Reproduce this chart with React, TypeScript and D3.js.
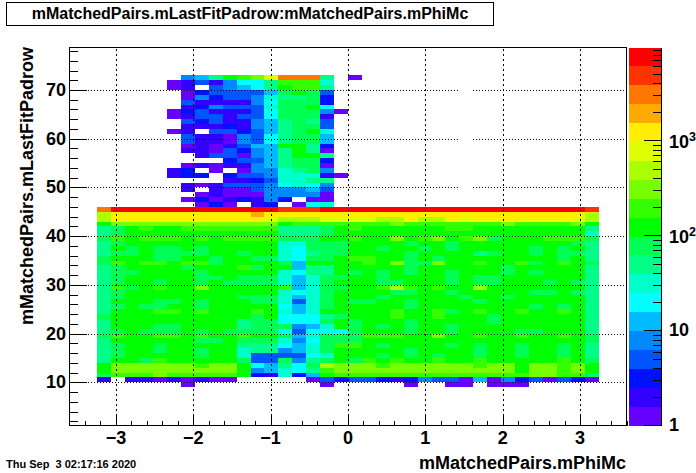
import React from "react";
import * as d3 from "d3";

const W = 696, H = 473;
const titleText = "mMatchedPairs.mLastFitPadrow:mMatchedPairs.mPhiMc";
const xTitle = "mMatchedPairs.mPhiMc";
const yTitle = "mMatchedPairs.mLastFitPadrow";
const dateText = "Thu Sep\u00a0\u00a03 02:17:16 2020";
const xTicks = [-3, -2, -1, 0, 1, 2, 3];
const yTicks = [10, 20, 30, 40, 50, 60, 70];
const firstPhi = -3.24, phiWidth = 0.18;

// palette, low to high
const palette = ["#6600ff","#3300ff","#0011ff","#0055ff","#0088ff","#00bbff","#00ffff","#00ffcc","#00ff88","#00ff55","#00ff00","#33ff00","#77ff00","#aaff00","#ddff00","#ffee00","#ffaa00","#ff7700","#ff3300","#ff0000"];

// counts per padrow; columns start at phi bin 0
const lowerPadrows = [45,44,43,42,41,40,39,38,37,36,35,34,33,32,31,30,29,28,27,26,25,24,23,22,21,20,19,18,17,16,15,14,13,12,11,10,9];
const lowerCounts = [
[3160,7900,7900,7900,7900,7900,7900,7900,7900,7900,7900,7900,7900,5000,5000,5000,7900,7900,7900,7900,7900,7900,7900,7900,7900,7900,7900,7900,7900,7900,7900,7900,7900,7900,7900,5000],
[500,1250,1250,1250,1250,1250,1250,1250,1250,1250,1250,2000,1250,1250,1250,1250,1250,1250,1250,1250,1250,1250,1250,1250,1250,1250,1250,1250,1250,1250,1250,1250,1250,1250,1250,500],
[500,1250,1250,1250,1250,1250,1250,1250,1250,1250,1250,1250,790,500,500,500,790,790,790,790,500,500,1250,500,500,1250,790,1250,1250,1250,1250,1250,1250,1250,790,500],
[125,316,316,316,316,316,316,316,316,316,316,316,316,125,200,200,200,200,200,200,200,316,200,200,200,200,200,200,200,316,200,200,200,200,316,125],
[50,79,125,200,125,125,200,200,200,200,200,200,200,50,50,50,79,125,200,125,125,125,125,125,125,200,200,125,125,125,125,125,125,125,125,50],
[50,79,125,125,125,125,125,125,125,125,125,125,125,50,50,50,79,125,125,125,125,125,125,125,125,125,125,125,125,125,125,125,125,125,125,31],
[79,200,125,200,200,200,125,200,125,200,200,200,200,79,79,79,125,125,200,125,125,316,125,200,316,125,200,316,79,125,125,125,200,200,200,79],
[50,79,125,125,125,125,125,125,125,125,125,125,125,31,31,79,79,79,125,125,125,125,79,125,125,79,125,125,125,125,125,125,125,125,79,50],
[50,125,79,125,79,79,125,79,125,125,125,125,125,31,20,79,79,79,125,125,79,125,125,79,125,79,125,125,125,125,125,79,125,79,125,50],
[50,79,79,125,79,79,79,79,125,125,79,125,125,31,20,50,79,79,125,125,125,125,79,125,125,125,125,50,79,125,125,79,125,79,79,50],
[79,125,125,125,79,79,125,125,79,125,125,79,79,31,20,79,79,125,200,200,125,125,79,125,79,125,125,125,125,125,125,125,125,79,125,50],
[79,200,125,200,200,125,200,200,79,125,125,125,125,79,12,125,125,125,125,200,125,316,79,79,316,125,125,200,125,125,200,79,125,200,125,79],
[50,79,125,125,125,125,79,125,125,125,200,79,125,125,12,50,50,125,125,125,125,125,79,125,125,125,125,125,125,79,125,125,125,125,125,50],
[50,79,79,125,125,125,125,79,125,125,125,125,125,31,20,50,50,125,79,125,79,125,79,125,125,79,125,125,125,79,125,79,125,125,125,50],
[50,79,125,125,125,125,125,79,79,125,79,79,79,31,12,31,79,79,125,125,79,125,125,125,125,79,125,79,79,125,125,125,125,125,125,50],
[50,79,125,125,79,125,125,79,125,79,79,79,79,31,12,31,79,125,125,125,79,79,125,125,125,79,125,79,79,125,125,125,79,125,79,50],
[50,200,79,125,200,125,125,316,125,125,125,125,125,200,12,31,79,79,125,125,200,500,200,125,200,125,125,500,125,125,125,125,125,125,125,50],
[50,79,125,125,125,125,125,125,125,125,125,125,125,31,20,31,79,125,125,125,125,79,79,125,125,79,125,125,125,125,125,79,79,125,79,50],
[50,79,125,125,125,125,125,125,125,125,79,79,79,31,12,31,79,125,125,125,79,125,125,125,125,125,79,125,125,79,125,125,125,125,125,50],
[50,125,125,125,79,79,125,79,125,125,125,79,79,31,5,31,79,125,79,79,125,125,79,125,125,125,125,79,125,125,125,125,125,125,125,50],
[50,79,125,79,79,125,125,79,125,125,125,125,125,20,12,31,79,125,125,125,125,125,79,125,125,125,125,125,125,125,125,79,125,79,125,50],
[50,125,125,125,200,200,125,200,125,125,125,200,125,31,12,31,125,125,125,125,125,200,125,125,200,79,125,200,125,125,200,125,125,200,125,50],
[79,125,125,125,125,125,125,125,125,125,125,79,125,20,20,20,50,79,125,125,125,200,125,125,200,125,125,125,79,125,125,125,125,125,125,50],
[50,125,125,125,125,125,125,125,125,125,50,79,79,20,20,20,79,125,79,125,125,125,79,125,125,125,125,125,79,125,125,125,125,125,125,50],
[50,125,125,125,79,79,125,125,125,125,50,79,79,79,8,12,31,125,79,125,79,125,79,125,125,79,125,125,125,125,125,125,125,125,125,50],
[50,79,125,79,79,79,125,79,125,79,79,79,79,20,5,20,20,20,79,125,125,125,79,125,125,79,125,125,125,125,79,79,125,125,125,50],
[79,200,125,125,200,200,125,200,125,125,200,125,125,79,12,31,79,79,79,200,200,200,125,125,316,125,125,200,125,125,200,125,125,200,125,79],
[50,125,125,125,125,125,125,79,79,125,79,79,79,31,8,20,79,79,79,125,125,125,125,125,125,125,125,125,125,125,125,125,125,125,125,79],
[50,79,125,125,79,125,125,125,125,125,50,50,50,20,12,31,79,200,200,125,79,125,125,125,125,79,125,79,125,125,79,125,125,79,125,50],
[50,79,125,125,79,125,125,79,125,125,31,50,50,8,12,31,79,125,125,125,125,125,79,125,125,125,125,79,125,125,79,125,125,79,125,50],
[50,79,125,125,125,125,125,79,125,125,31,5,5,5,5,20,31,125,125,125,79,125,79,125,79,125,125,79,125,125,79,125,125,79,125,50],
[50,125,125,79,200,125,125,125,125,125,79,5,5,79,8,50,79,125,79,200,125,200,125,125,200,125,125,200,125,125,125,125,125,200,125,79],
[125,316,316,316,316,316,316,200,316,316,125,20,12,50,20,79,500,316,316,316,200,316,316,316,316,316,316,200,316,316,125,316,316,200,316,125],
[125,316,316,316,316,316,316,316,316,316,125,8,12,31,20,50,200,316,316,316,316,316,316,316,316,316,316,316,316,316,125,316,316,200,316,125],
[79,200,200,200,316,200,200,200,200,200,125,3,2,31,3,12,125,200,200,200,200,200,200,200,200,200,200,200,200,200,200,316,316,200,200,79],
[2,0,2,2,1,2,1,2,1,1,0,0,0,0,0,1,5,3,5,5,3,2,3,8,5,5,1,12,1,8,3,5,1,5,3,1],
[0,0,0,0,0,0,1,0,0,0,0,0,0,0,0,0,1,0,0,0,0,0,1,0,0,1,1,0,1,1,1,0,0,0,0,0],
];

// upper padrows; columns start at phi bin 5
const upperFirstBin = 5;
const upperPadrows = [72,71,70,69,68,67,66,65,64,63,62,61,60,59,58,57,56,55,54,53,52,51,50,49,48,47,46];
const upperCounts = [
[0,8,12,50,125,200,316,790,3160,3160,3160,50,0,1],
[1,2,5,2,8,20,20,50,200,200,200,31,0,0],
[1,2,0,5,8,12,20,50,125,200,200,50,0,0],
[0,1,3,5,5,5,5,12,79,125,79,5,0,0],
[0,1,8,3,5,5,8,31,50,50,79,3,0,0],
[0,5,2,2,2,2,8,20,79,79,79,3,0,0],
[0,2,3,8,5,5,5,31,79,79,125,20,0,0],
[1,3,5,2,2,2,5,20,79,79,79,8,1,0],
[1,2,5,5,2,5,5,20,79,79,79,2,0,0],
[0,5,3,5,2,2,8,12,50,79,50,5,0,0],
[0,2,2,2,3,2,8,12,50,79,79,5,0,0],
[1,2,0,5,5,3,5,12,50,79,125,31,0,0],
[0,5,2,2,1,8,5,20,50,79,79,12,0,0],
[0,5,2,2,1,8,5,20,50,79,79,12,0,0],
[0,1,2,1,2,5,12,12,125,125,50,3,0,0],
[0,2,2,1,5,3,8,12,50,125,50,1,0,0],
[0,0,2,5,5,1,8,12,50,125,125,50,0,0],
[0,0,0,0,3,5,5,12,50,79,79,3,0,0],
[0,1,2,1,2,2,8,12,50,79,79,1,0,0],
[2,3,0,1,0,1,8,8,31,50,79,8,0,0],
[2,3,3,0,3,5,5,8,31,31,31,2,1,0],
[0,0,0,0,2,2,3,5,31,31,50,50,0,0],
[0,2,1,2,5,5,5,8,20,31,20,8,0,0],
[0,2,0,2,1,1,5,8,8,8,12,5,0,0],
[0,0,1,2,1,1,1,8,8,8,8,1,0,0],
[0,1,3,1,2,3,2,8,3,0,1,1,0,0],
[0,0,1,3,1,0,2,3,0,1,20,31,0,0],
];

const frame = { left: 69.5, right: 626.5, top: 47.5, bottom: 425.5 };
const bar = { left: 629, right: 661.5, top: 47.5, bottom: 425.5 };
const gridGap = [458, 473];
const x = d3.scaleLinear().domain([-3.6, 3.6]).range([frame.left, frame.right]);
const y = d3.scaleLinear().domain([10, 70]).range([382.3, 90]);
const logMax = Math.log10(9500);
const levelOf = d3.scaleQuantize<number>().domain([0, logMax]).range(d3.range(palette.length));
const cbar = d3.scaleLog().domain([1, 9500]).range([bar.bottom, bar.top]);

const font = "'Liberation Sans', Arial, sans-serif";
const minorX = d3.range(-3.4, 3.601, 0.2).map((d) => +d.toFixed(1));
const minorY = d3.range(2, 79, 2);
const cbarMinor = [2,3,4,5,6,7,8,9,20,30,40,50,60,70,80,90,200,300,400,500,600,700,800,900,2000,3000,4000,5000,6000,7000,8000,9000];

function Cell({ bin, row, v }: { bin: number; row: number; v: number }) {
  if (!v) return null;
  const x0 = Math.round(x(firstPhi + bin * phiWidth));
  const x1 = Math.round(x(firstPhi + (bin + 1) * phiWidth));
  const y0 = Math.round(y(row + 1));
  const y1 = Math.round(y(row));
  return <rect x={x0} y={y0} width={x1 - x0} height={y1 - y0} fill={palette[levelOf(Math.log10(v))]} />;
}

export default function App() {
  return (
    <svg width={W} height={H} viewBox={`0 0 ${W} ${H}`} style={{ position: "absolute", left: 0, top: 0, background: "#fff" }}>
      <rect width={W} height={H} fill="#fff" />
      <g shapeRendering="crispEdges">
        {lowerCounts.map((r, i) => r.map((v, c) => <Cell key={`l${i}-${c}`} bin={c} row={lowerPadrows[i]} v={v} />))}
        {upperCounts.map((r, i) => r.map((v, c) => <Cell key={`u${i}-${c}`} bin={c + upperFirstBin} row={upperPadrows[i]} v={v} />))}
        {xTicks.map((t) => (
          <line key={t} x1={Math.round(x(t)) + 0.5} x2={Math.round(x(t)) + 0.5} y1={frame.bottom} y2={frame.top} stroke="#000" strokeDasharray="2 3" />
        ))}
        {yTicks.map((t) => (
          <g key={t} stroke="#000" strokeDasharray="1 2">
            <line x1={frame.left} x2={gridGap[0]} y1={Math.round(y(t)) + 0.5} y2={Math.round(y(t)) + 0.5} />
            <line x1={gridGap[1]} x2={frame.right} y1={Math.round(y(t)) + 0.5} y2={Math.round(y(t)) + 0.5} />
          </g>
        ))}
        {minorX.map((t) => (
          <line key={t} x1={Math.round(x(t)) + 0.5} x2={Math.round(x(t)) + 0.5} y1={frame.bottom} y2={frame.bottom - 5} stroke="#000" />
        ))}
        {xTicks.map((t) => (
          <line key={t} x1={Math.round(x(t)) + 0.5} x2={Math.round(x(t)) + 0.5} y1={frame.bottom} y2={frame.bottom - 10} stroke="#000" />
        ))}
        {minorY.map((t) => (
          <line key={t} x1={frame.left} x2={frame.left + 8} y1={Math.round(y(t)) + 0.5} y2={Math.round(y(t)) + 0.5} stroke="#000" />
        ))}
        {yTicks.map((t) => (
          <line key={t} x1={frame.left} x2={frame.left + 17} y1={Math.round(y(t)) + 0.5} y2={Math.round(y(t)) + 0.5} stroke="#000" />
        ))}
        <rect x={frame.left} y={frame.top} width={frame.right - frame.left} height={frame.bottom - frame.top} fill="none" stroke="#000" />
        {palette.map((c, i) => {
          const y0 = bar.bottom - ((i + 1) * (bar.bottom - bar.top)) / palette.length;
          const y1 = bar.bottom - (i * (bar.bottom - bar.top)) / palette.length;
          return <rect key={c} x={bar.left} y={Math.round(y0)} width={bar.right - bar.left} height={Math.round(y1) - Math.round(y0)} fill={c} />;
        })}
        <line x1={bar.right} x2={bar.right} y1={bar.top} y2={bar.bottom} stroke="#000" />
        <line x1={bar.right - 18} x2={bar.right} y1={bar.bottom} y2={bar.bottom} stroke="#000" />
        {cbarMinor.map((t) => (
          <line key={t} x1={bar.right - 9} x2={bar.right} y1={Math.round(cbar(t)) + 0.5} y2={Math.round(cbar(t)) + 0.5} stroke="#000" />
        ))}
        {[10, 100, 1000].map((t) => (
          <line key={t} x1={bar.right - 18} x2={bar.right} y1={Math.round(cbar(t)) + 0.5} y2={Math.round(cbar(t)) + 0.5} stroke="#000" />
        ))}
        <rect x={6.5} y={2.5} width={487} height={23} fill="#fff" stroke="#000" />
      </g>
      <g fontFamily={font} fontWeight="bold" fill="#000">
        <text x={250} y={19} textAnchor="middle" fontSize={16}>{titleText}</text>
        {xTicks.map((t) => (
          <text key={t} x={x(t)} y={444} textAnchor="middle" fontSize={18}>{t < 0 ? `\u2212${-t}` : t}</text>
        ))}
        {yTicks.map((t) => (
          <text key={t} x={66} y={y(t) + 6} textAnchor="end" fontSize={18}>{t}</text>
        ))}
        <text transform="translate(33,325) rotate(-90)" fontSize={18}>{yTitle}</text>
        <text x={626} y={469} textAnchor="end" fontSize={18}>{xTitle}</text>
        <text x={6} y={468} fontSize={11}>{dateText}</text>
        <text x={669} y={431} fontSize={18}>1</text>
        <text x={669} y={336} fontSize={18}>10</text>
        <text x={669} y={243} fontSize={18}>10<tspan dy={-7} fontSize={12.5}>2</tspan></text>
        <text x={669} y={148} fontSize={18}>10<tspan dy={-7} fontSize={12.5}>3</tspan></text>
      </g>
    </svg>
  );
}
